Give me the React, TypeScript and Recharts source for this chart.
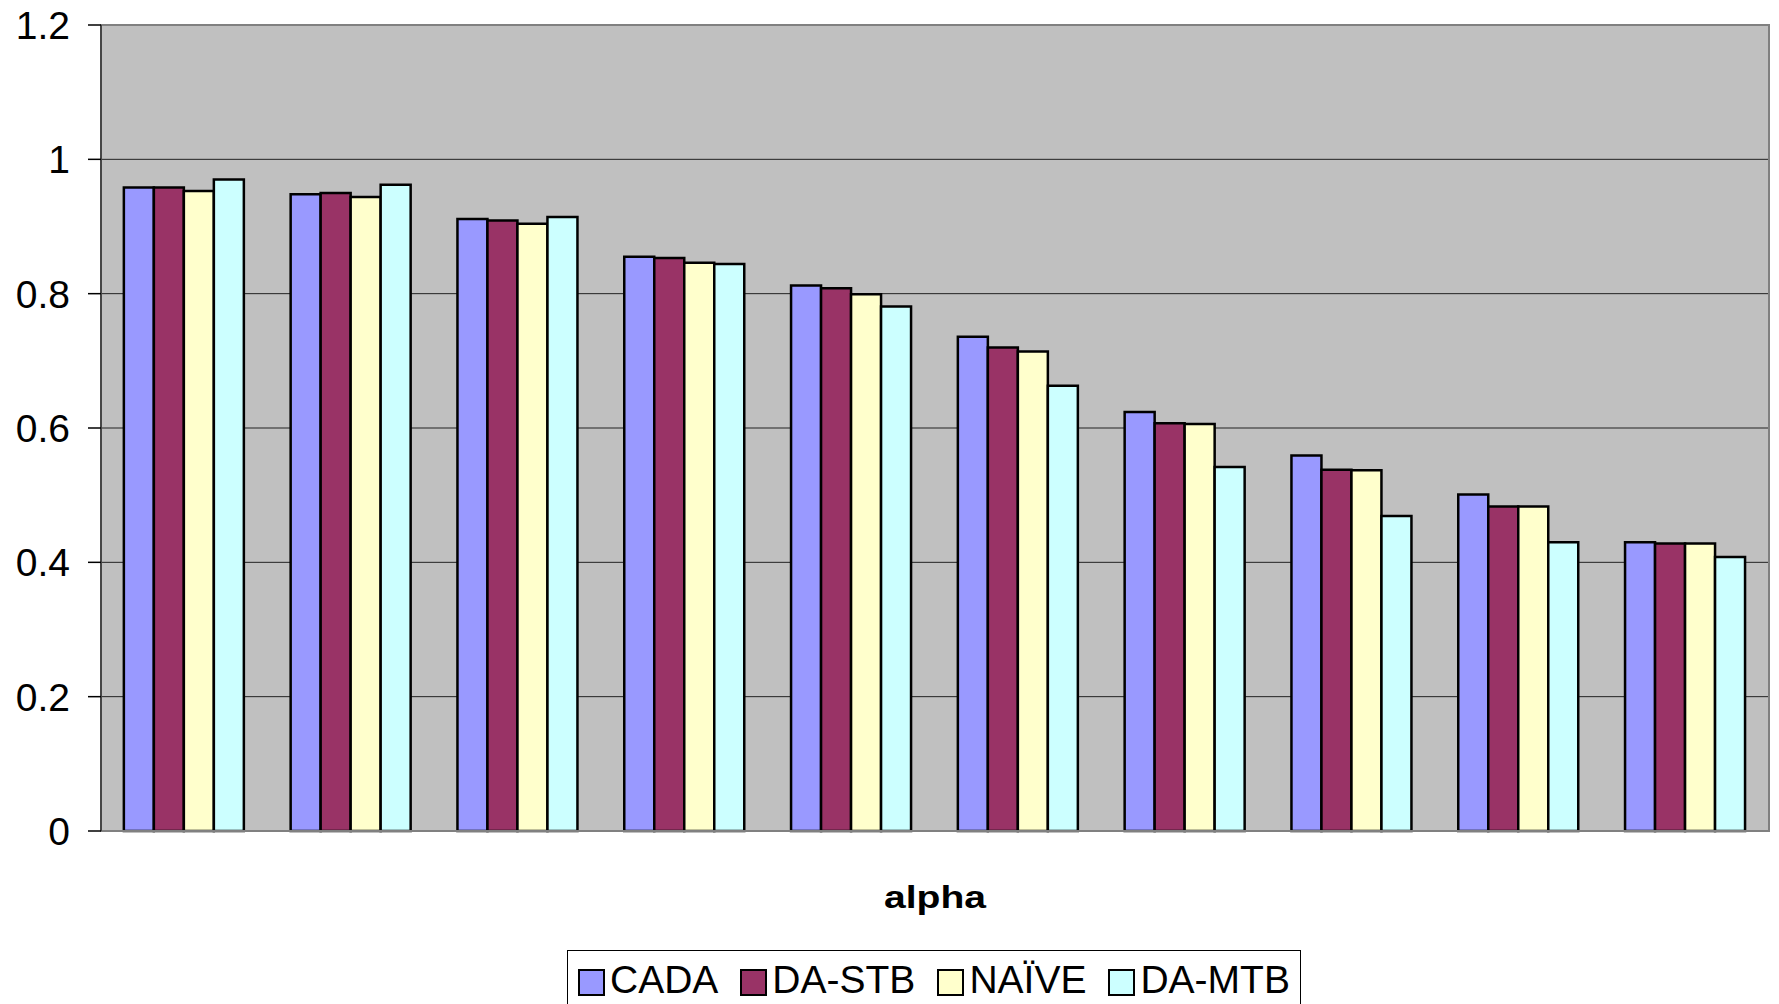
import React from 'react';
import { BarChart, Bar, XAxis, YAxis, CartesianGrid, ReferenceArea, Label } from 'recharts';

const categories = ['1', '2', '3', '4', '5', '6', '7', '8', '9', '10'];
const cada = [0.958, 0.948, 0.911, 0.855, 0.812, 0.736, 0.624, 0.559, 0.501, 0.430];
const daStb = [0.958, 0.950, 0.909, 0.853, 0.808, 0.720, 0.607, 0.538, 0.483, 0.428];
const naive = [0.953, 0.944, 0.904, 0.846, 0.799, 0.714, 0.606, 0.537, 0.483, 0.428];
const daMtb = [0.970, 0.962, 0.914, 0.844, 0.781, 0.663, 0.542, 0.469, 0.430, 0.408];
const yTicks = [0, 0.2, 0.4, 0.6, 0.8, 1, 1.2];

const seriesNames = ['CADA', 'DA-STB', 'NAÏVE', 'DA-MTB'];
const seriesKeys = ['cada', 'daStb', 'naive', 'daMtb'];
const seriesColors = ['#9999FF', '#993366', '#FFFFCC', '#CCFFFF'];

const data = categories.map((c, i) => ({
  name: c,
  cada: cada[i],
  daStb: daStb[i],
  naive: naive[i],
  daMtb: daMtb[i],
}));

const FONT = '"Liberation Sans", Arial, sans-serif';

const AlphaLabel = (props: any) => {
  const vb = props.viewBox || { x: 0, y: 0, width: 0, height: 0 };
  const cx = vb.x + vb.width / 2;
  return (
    <text
      x={cx}
      y={vb.y + 77}
      textAnchor="middle"
      fontFamily={FONT}
      fontWeight="bold"
      fontSize={32}
      fill="#000"
      textLength={102}
      lengthAdjust="spacingAndGlyphs"
    >
      alpha
    </text>
  );
};

export default function App() {
  return (
    <div style={{ position: 'absolute', left: 0, top: 0, width: 1779, height: 1004, background: '#fff', fontFamily: FONT, overflow: 'hidden' }}>
      <BarChart
        width={1779}
        height={1004}
        data={data}
        margin={{ top: 25, right: 10, bottom: 0, left: 0 }}
        barCategoryGap="13.7%"
        barGap={0}
      >
        <CartesianGrid vertical={false} stroke="#222" strokeWidth={1} fill="#C0C0C0" fillOpacity={1} />
        <ReferenceArea y1={0} y2={1.2} fill="none" stroke="#808080" strokeWidth={2} ifOverflow="visible" />
        <XAxis
          dataKey="name"
          height={173}
          tick={false}
          tickLine={false}
          axisLine={{ stroke: '#808080', strokeWidth: 2 }}
        >
          <Label content={<AlphaLabel />} />
        </XAxis>
        <YAxis
          width={101}
          domain={[0, 1.2]}
          ticks={yTicks}
          interval={0}
          tickSize={13}
          tickMargin={18}
          tickLine={{ stroke: '#000', strokeWidth: 1.5 }}
          axisLine={{ stroke: '#333', strokeWidth: 1.5 }}
          tick={{ fontSize: 39, fill: '#000', fontFamily: FONT }}
        />
        {seriesKeys.map((k, i) => (
          <Bar
            key={k}
            dataKey={k}
            name={seriesNames[i]}
            fill={seriesColors[i]}
            stroke="#000"
            strokeWidth={2.5}
            isAnimationActive={false}
          />
        ))}
      </BarChart>
      <div
        style={{
          position: 'absolute',
          left: 567,
          top: 950,
          width: 734,
          height: 70,
          boxSizing: 'border-box',
          border: '1.5px solid #000',
          background: '#fff',
          display: 'flex',
          flexWrap: 'nowrap',
          alignItems: 'flex-start',
          paddingLeft: 10,
          paddingTop: 9,
          whiteSpace: 'nowrap',
        }}
      >
        {seriesNames.map((n, i) => (
          <div key={n} style={{ display: 'flex', alignItems: 'center', marginRight: 22, height: 40, flexShrink: 0 }}>
            <div
              style={{
                width: 23,
                height: 23,
                background: seriesColors[i],
                border: '2px solid #000',
                marginRight: 5,
                marginTop: 5,
                flexShrink: 0,
              }}
            />
            <span style={{ fontSize: 39, lineHeight: '40px', color: '#000', fontFamily: FONT, whiteSpace: 'nowrap' }}>{n}</span>
          </div>
        ))}
      </div>
    </div>
  );
}
